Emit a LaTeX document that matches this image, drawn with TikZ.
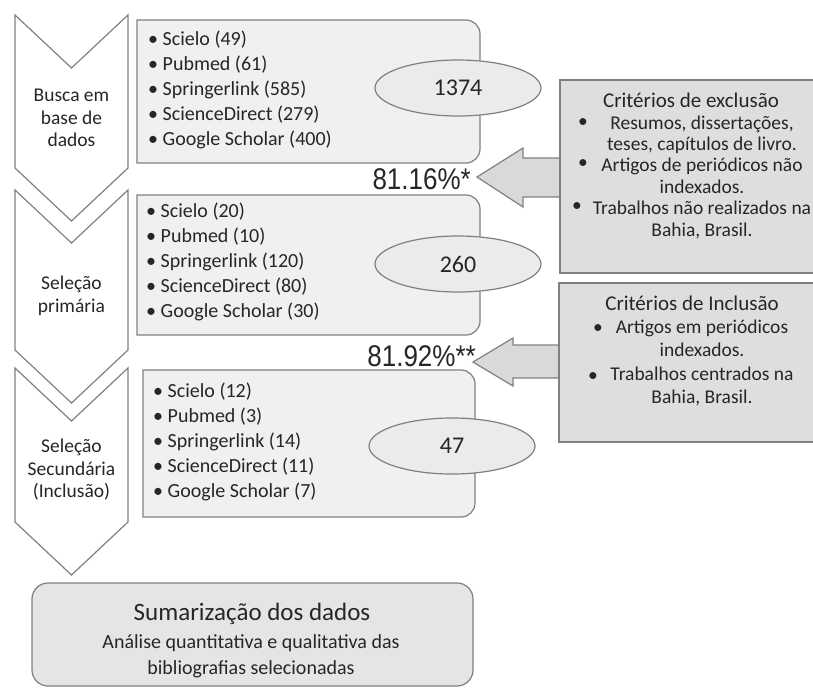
\documentclass[tikz,border=0pt]{standalone}
\usepackage{fontspec}
\setmainfont{Carlito}
\newfontfamily\pctfont{Liberation Sans}
\usetikzlibrary{shapes.geometric,positioning}

\tikzset{
  outline/.style={draw=black!50, line width=1.2pt},
  listbox/.style={outline, fill=black!6},
  critbox/.style={outline, fill=black!13},
  blockarrow/.style={outline, fill=black!15},
  countell/.style={ellipse, outline, fill=black!8, minimum width=166pt, minimum height=56pt, inner sep=0pt, font=\fontsize{24}{28}\selectfont},
  listitem/.style={anchor=west, inner sep=0pt, font=\fontsize{20}{24}\selectfont},
  stagetext/.style={align=center, inner sep=0pt, font=\fontsize{19.5}{22.5}\selectfont},
  crittitle/.style={inner sep=0pt, font=\fontsize{21}{24}\selectfont},
  crittext/.style={align=center, inner sep=0pt, font=\fontsize{19.5}{21.4}\selectfont},
  critbullet/.style={inner sep=0pt, font=\fontsize{19.5}{21.4}\selectfont},
  pct/.style={anchor=east, inner sep=0pt, yscale=1.15, font=\pctfont\fontsize{26}{30}\selectfont},
}

\begin{document}
\begin{tikzpicture}[x=1pt, y=-1pt, text=black!85]

    \fill[white] (0,0) rectangle (813,688);
    \clip (0,0) rectangle (813,688);

    % chevrons of the three stages
    \foreach \t/\b in {15/168, 190/350, 368/522}
        \draw[outline, fill=white] (15,\t) -- (71.5,\t+53) -- (128,\t) -- (128,\b)
            -- (71.5,\b+53) -- (15,\b) -- cycle;

    \path
    (71.5,118) node[stagetext] (busca) {Busca em\\base de\\dados}
    (71.5,296) node[stagetext] (prim) {Seleção\\primária}
    (71.5,470) node[stagetext] (sec) {Seleção\\Secundária\\(Inclusão)};

    % list boxes, rounded on the right side
    \foreach \l/\t/\r/\b in {137/20/480/163, 137/195/480/335, 143/370/475/517}
        \draw[listbox] (\l,\t) -- (\r-14,\t) arc[start angle=-90, end angle=0, radius=14]
            -- (\r,\b-14) arc[start angle=0, end angle=90, radius=14] -- (\l,\b) -- cycle;

    \foreach \txt [count=\i] in {Scielo (49), Pubmed (61), Springerlink (585), ScienceDirect (279), Google Scholar (400)}
        \node[listitem] (a\i) at (148,15+25*\i) {\textbullet\ \txt};
    \foreach \txt [count=\i] in {Scielo (20), Pubmed (10), Springerlink (120), ScienceDirect (80), Google Scholar (30)}
        \node[listitem] (b\i) at (146,187+25*\i) {\textbullet\ \txt};
    \foreach \txt [count=\i] in {Scielo (12), Pubmed (3), Springerlink (14), ScienceDirect (11), Google Scholar (7)}
        \node[listitem] (c\i) at (153,367+25*\i) {\textbullet\ \txt};

    \path
    (458,88)  node[countell] (n1) {1374}
    (458,264) node[countell] (n2) {260}
    (452,446) node[countell] (n3) {47};

    % block arrows from the criteria
    \draw[blockarrow] (477,177) -- (523,148) -- (523,158) -- (570,158) -- (570,197)
        -- (523,197) -- (523,207) -- cycle;
    \draw[blockarrow] (473,362) -- (513,338) -- (513,345) -- (570,345) -- (570,378)
        -- (513,378) -- (513,386) -- cycle;

    \draw[critbox] (560,80) rectangle (830,273);
    \draw[critbox] (559,283) rectangle (830,442);

    \node[crittitle] (excl) at (691,100) {Critérios de exclusão};
    \node[crittext] (excltext) at (702,177) {Resumos, dissertações,\\teses, capítulos de livro.\\Artigos de periódicos não\\indexados.\\Trabalhos não realizados na\\Bahia, Brasil.};
    \node[critbullet] (e1) at (583,123) {\textbullet};
    \node[critbullet] (e2) at (583,164) {\textbullet};
    \node[critbullet] (e3) at (577,207) {\textbullet};

    \node[crittitle] (incl) at (692,303) {Critérios de Inclusão};
    \node[crittext, font=\fontsize{19.5}{23.5}\selectfont] (incltext) at (702,363) {Artigos em periódicos\\indexados.\\Trabalhos centrados na\\Bahia, Brasil.};
    \node[critbullet] (i1) at (598,329) {\textbullet};
    \node[critbullet] (i2) at (593,377) {\textbullet};

    \node[pct] (p1) at (471,179) {81.16\%*};
    \node[pct] (p2) at (476,356) {81.92\%**};

    % summary
    \draw[outline, fill=black!10, rounded corners=16] (32,583) rectangle (473,686);
    \node[inner sep=0pt, font=\fontsize{25}{28}\selectfont] (sum) at (252,614) {Sumarização dos dados};
    \node[align=center, inner sep=0pt, font=\fontsize{20}{26}\selectfont] (sumtext) at (251,656) {Análise quantitativa e qualitativa das\\bibliografias selecionadas};

\end{tikzpicture}
\end{document}
